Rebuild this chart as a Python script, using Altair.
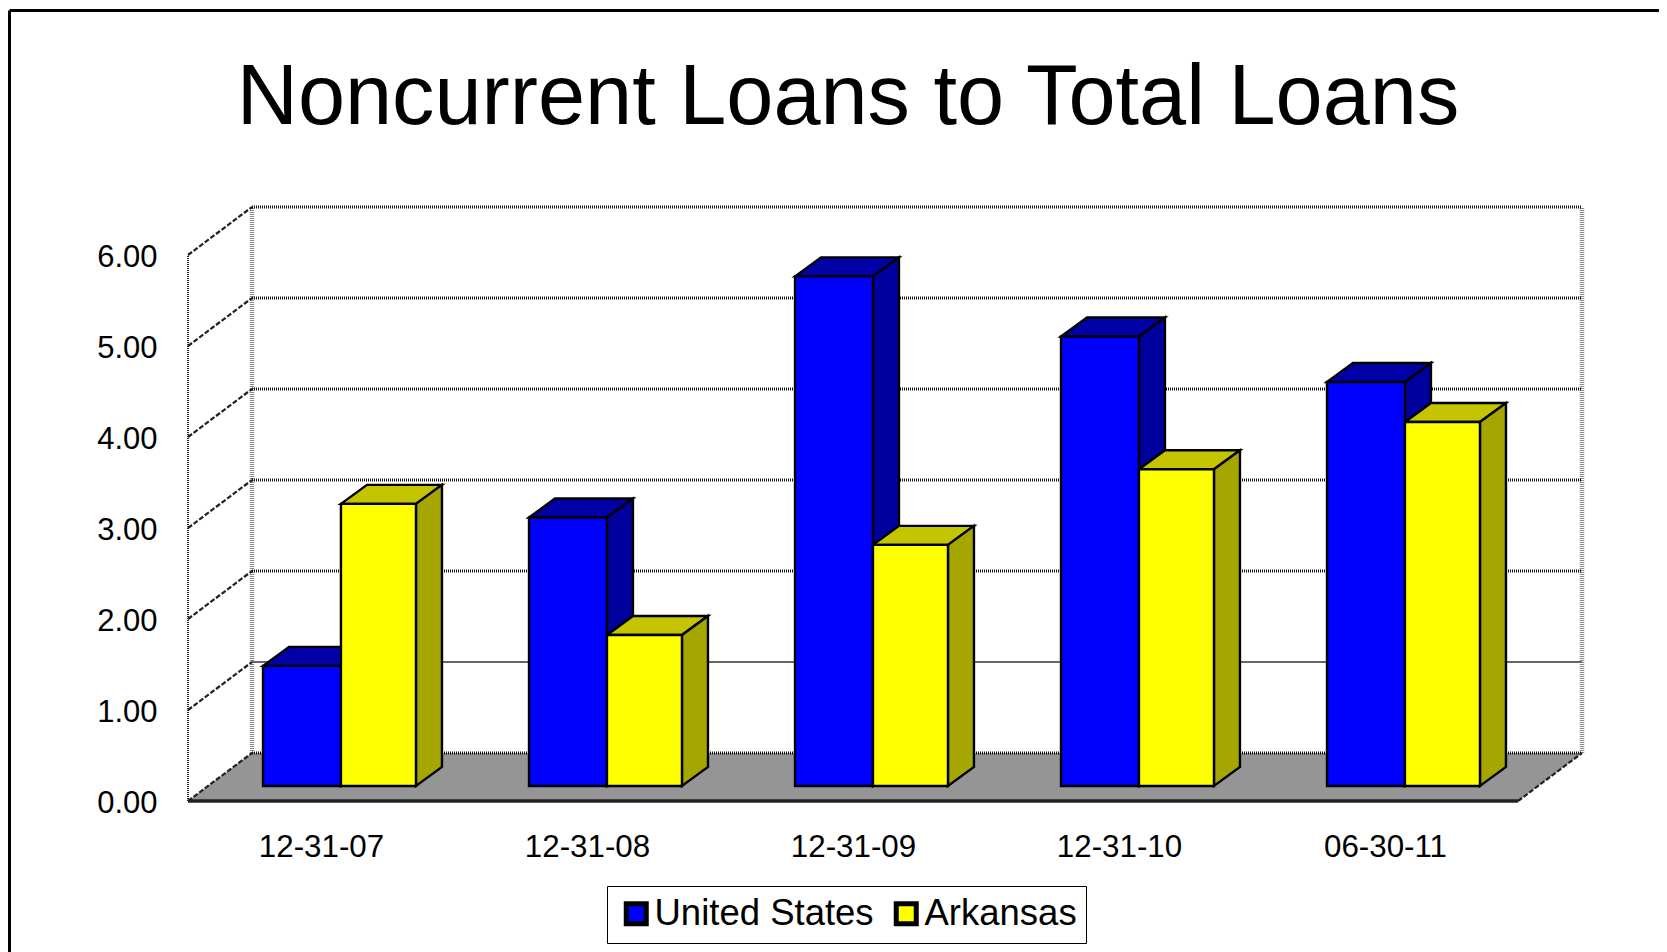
import json
import altair as alt
import pandas as pd

dates = ["12-31-07", "12-31-08", "12-31-09", "12-31-10", "06-30-11"]
us = [1.32, 2.95, 5.60, 4.94, 4.44]
arkansas = [3.10, 1.66, 2.65, 3.48, 4.00]
series_names = ["United States", "Arkansas"]
ticks = [0, 1, 2, 3, 4, 5, 6]

# 1 x unit = one category slot, 1 y unit = one percentage point
WALL_DX, WALL_DY = 64 / 266, 48 / 91
BAR_X, BAR_Y = 20 / 266, 15 / 91
BAR_DX, BAR_DY = 26 / 266, 19 / 91
LEFT, MID, RIGHT = 0.282, 0.575, 0.857
N = len(dates)
W, H = 1394, 595
xs = alt.Scale(domain=[0, W / 266], nice=False, zero=False)
ys = alt.Scale(domain=[0, H / 91], nice=False, zero=False)

label_expr = "%s[datum.value - 0.5]" % json.dumps(dates).replace('"', "'")
x_axis = alt.Axis(
    values=[i + 0.5 for i in range(N)], labelExpr=label_expr, title=None, grid=False, domain=False,
    ticks=False, labelFontSize=31.3, labelFont="Liberation Sans", labelColor="black", labelPadding=30,
    labelFlush=False, labelOverlap=False)
y_axis = alt.Axis(
    values=ticks, format=".2f", title=None, grid=False, domain=False, ticks=False, labelFontSize=31,
    labelFont="Liberation Sans", labelColor="black", labelPadding=31, labelOffset=2)
X = alt.X("x:Q", scale=xs, axis=x_axis)
Y = alt.Y("y:Q", scale=ys, axis=y_axis, stack=None)

polys = []
fronts = []


def poly(rows, pid, fill):
    for x, y, y2 in rows:
        polys.append(dict(pid=pid, fill=fill, x=x, y=y, y2=y2))


for s, (vals, l, r, top, side) in enumerate([
    (us, LEFT, MID, "#0000A6", "#00009E"),
    (arkansas, MID, RIGHT, "#C4C400", "#A6A600"),
]):
    for i, v in enumerate(vals):
        a, b = i + l, i + r
        h = v + BAR_Y
        b0 = BAR_Y
        poly([(a, h, h), (a + BAR_DX, h + BAR_DY, h), (b, h + BAR_DY, h), (b + BAR_DX, h + BAR_DY, h + BAR_DY)],
             f"{s}-{i}-top", top)
        poly([(b, h, b0), (b + BAR_DX, h + BAR_DY, b0 + BAR_DY)], f"{s}-{i}-side", side)
        for x in (a, b):
            fronts.append(dict(pid=f"{s}-{i}", series=series_names[s], x=x, y=h, y2=b0))

floor = pd.DataFrame([
    dict(x=0, y=0, y2=0),
    dict(x=WALL_DX, y=WALL_DY, y2=0),
    dict(x=N, y=WALL_DY, y2=0),
    dict(x=N + WALL_DX, y=WALL_DY, y2=WALL_DY),
])

back_lines = pd.DataFrame([dict(x=WALL_DX, x2=N + WALL_DX, y=t + WALL_DY, y2=t + WALL_DY) for t in ticks if t != 1])
back_one = pd.DataFrame([dict(x=WALL_DX, x2=N + WALL_DX, y=1 + WALL_DY, y2=1 + WALL_DY)])
diagonals = pd.DataFrame(
    [dict(x=0, x2=WALL_DX, y=t, y2=t + WALL_DY) for t in ticks]
    + [dict(x=N, x2=N + WALL_DX, y=0, y2=WALL_DY)]
)
verticals = pd.DataFrame([dict(x=WALL_DX + d, x2=WALL_DX + d, y=WALL_DY, y2=6 + WALL_DY) for d in (0, N)])
front_axis = pd.DataFrame([dict(x=0, x2=0, y=0, y2=6)])
front_edge = pd.DataFrame([dict(x=0, x2=N, y=0, y2=0)])
frame_row = pd.DataFrame([dict(frame=1)])


def rules(df, **kw):
    return alt.Chart(df).mark_rule(**kw).encode(x=X, x2="x2:Q", y=Y, y2="y2:Q")


area_y2 = alt.Y2("y2:Q")
floor_layer = alt.Chart(floor).mark_area(orient="vertical", fill="#959595").encode(x=X, y=Y, y2=area_y2)
dark_faces = alt.Chart(pd.DataFrame(polys)).mark_area(orient="vertical", stroke="black", strokeWidth=2.4).encode(
    x=X, y=Y, y2=area_y2, detail="pid:N", fill=alt.Fill("fill:N", scale=None),
)
front_faces = alt.Chart(pd.DataFrame(fronts)).mark_area(orient="vertical", stroke="black", strokeWidth=2.4).encode(
    x=X, y=Y, y2=area_y2, detail="pid:N",
    fill=alt.Fill("series:N", scale=alt.Scale(domain=series_names, range=["#0000FF", "#FFFF00"]), sort=series_names,
                  legend=alt.Legend(
                      title=None, orient="none", legendX=419, legendY=680, columns=2, symbolType="square",
                      symbolSize=400, symbolStrokeColor="black", symbolStrokeWidth=5, labelFontSize=36.5,
                      labelFont="Liberation Sans", labelColor="black", labelOffset=0, columnPadding=12,
                      strokeColor="black", fillColor="white", padding=9, symbolOffset=2,
                      labelLimit=400, symbolOpacity=1)),
)

frame_top = alt.Chart(frame_row).mark_rule(color="black", strokeWidth=3).encode(
    x=alt.value(-178.5), x2=alt.value(1480), y=alt.value(-195.5))
frame_left = alt.Chart(frame_row).mark_rule(color="black", strokeWidth=3).encode(
    x=alt.value(-178.5), y=alt.value(-195.5), y2=alt.value(760))

chart = alt.layer(
    frame_top,
    frame_left,
    floor_layer,
    rules(verticals, color="#8a8a8a", strokeWidth=4.5, strokeDash=[1, 1]),
    rules(back_lines, color="#111111", strokeWidth=3, strokeDash=[1, 1]),
    rules(back_one, color="#666666", strokeWidth=1.8),
    rules(diagonals, color="#222222", strokeWidth=2.2, strokeDash=[5, 2]),
    rules(front_axis, color="#222222", strokeWidth=2, strokeDash=[1, 1]),
    rules(front_edge, color="#222222", strokeWidth=3.5),
    dark_faces,
    front_faces,
).properties(
    width=W,
    height=H,
    background="white",
    autosize=alt.AutoSizeParams(type="none"),
    padding={"left": 180, "top": 198, "right": 77, "bottom": 151},
    title=alt.TitleParams(
        "Noncurrent Loans to Total Loans", fontSize=84.7, font="Liberation Sans", fontWeight="normal",
        color="black", anchor="middle", dx=-37, offset=-200, baseline="alphabetic",
    ),
).configure_view(stroke=None)

chart.save("out.html", embed_options={"renderer": "svg", "actions": False})
